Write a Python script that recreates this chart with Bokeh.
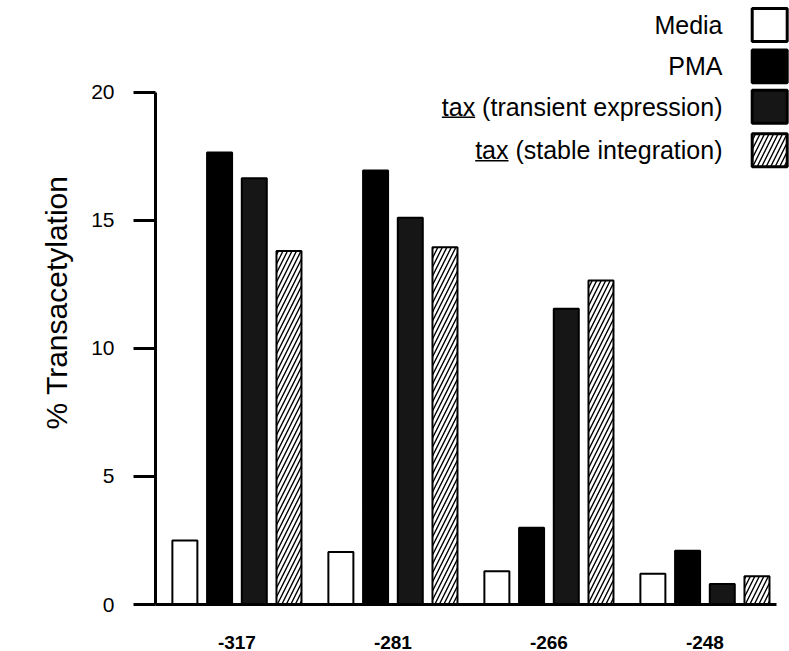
import numpy as np
from bokeh.plotting import figure
from bokeh.models import Range1d, FixedTicker, ColumnDataSource
from bokeh.transform import dodge
from bokeh.embed import file_html
from bokeh.resources import INLINE
from bokeh.core.properties import value

# ---------------- data ----------------
groups = ["-317", "-281", "-266", "-248"]
series = ["Media", "PMA", "tax (transient expression)", "tax (stable integration)"]
media = [2.5, 2.05, 1.3, 1.2]
pma = [17.65, 16.95, 3.0, 2.1]
tax_transient = [16.65, 15.1, 11.55, 0.8]
tax_stable = [13.8, 13.95, 12.65, 1.1]
y_ticks = [0, 5, 10, 15, 20]
y_label = "% Transacetylation"

FONT = "Liberation Sans"
W, H = 789, 651
LEFT = 155         # frame left (px)
BASE = 605         # frame bottom (px)
PX_X = 156.0       # pixels per group unit
PX_Y = 25.65       # pixels per y unit
X0 = -0.522
Y1 = BASE / PX_Y

p = figure(width=W, height=H, output_backend="svg", toolbar_location=None,
           x_range=Range1d(X0, X0 + (W - LEFT) / PX_X), y_range=Range1d(0, Y1),
           min_border_left=LEFT, min_border_right=0, min_border_top=0,
           min_border_bottom=H - BASE, background_fill_color="white",
           border_fill_color="white", outline_line_color=None)
p.grid.visible = False

src = ColumnDataSource(dict(x=list(range(len(groups))), media=media, pma=pma,
                            tt=tax_transient, ts=tax_stable))
pitch = 34.7 / PX_X
bw = 25.0 / PX_X
common = dict(width=bw, source=src, line_color="black", line_width=2)
p.vbar(x=dodge("x", -1.5 * pitch, range=p.x_range), top="media",
       fill_color="white", **common)
p.vbar(x=dodge("x", -0.5 * pitch, range=p.x_range), top="pma",
       fill_color="black", **common)
p.vbar(x=dodge("x", 0.5 * pitch, range=p.x_range), top="tt",
       fill_color="#161616", **common)
p.vbar(x=dodge("x", 1.5 * pitch, range=p.x_range), top="ts",
       fill_color="white", hatch_pattern="/", hatch_color="black",
       hatch_weight=1.4, hatch_scale=9, **common)

# ---------------- axes ----------------
xa = p.xaxis[0]
xa.ticker = FixedTicker(ticks=list(range(len(groups))))
xa.major_label_overrides = {i: g for i, g in enumerate(groups)}
xa.bounds = (X0, X0 + (776 - LEFT) / PX_X)
xa.axis_line_width = 3
xa.axis_line_color = "black"
xa.major_tick_line_color = None
xa.minor_tick_line_color = None
xa.major_label_text_font = FONT
xa.major_label_text_font_style = "bold"
xa.major_label_text_font_size = "19px"
xa.major_label_text_color = "black"
xa.major_label_standoff = 25

ya = p.yaxis[0]
ya.ticker = FixedTicker(ticks=y_ticks)
ya.bounds = (0, 20)
ya.axis_line_width = 3
ya.axis_line_color = "black"
ya.major_tick_line_width = 3
ya.major_tick_line_color = "black"
ya.major_tick_out = 22
ya.major_tick_in = 0
ya.minor_tick_line_color = None
ya.major_label_text_font = FONT
ya.major_label_text_font_size = "21px"
ya.major_label_text_color = "black"
ya.major_label_standoff = 19
ya.axis_label = y_label
ya.axis_label_text_font = FONT
ya.axis_label_text_font_size = "30px"
ya.axis_label_text_font_style = "normal"
ya.axis_label_text_color = "black"
ya.axis_label_standoff = 15

# ---------------- legend (drawn manually, labels left of boxes) ----------------
box_cx = X0 + (769.2 - LEFT) / PX_X
box_w = 35 / PX_X
box_h = 33 / PX_Y
row_px = [24.5, 66, 106.5, 150]           # pixel rows of the legend entries
row_y = [Y1 - r / PX_Y for r in row_px]
text_x = X0 + (722 - LEFT) / PX_X

fills = ["white", "black", "#161616", "white"]
hatches = [" ", " ", " ", "/"]
leg = ColumnDataSource(dict(x=[box_cx] * 4, y=row_y, fill=fills, hatch=hatches,
                            tx=[text_x] * 4, label=series))
p.rect(x="x", y="y", width=box_w, height=box_h, source=leg, fill_color="fill",
       line_color="black", line_width=3, hatch_pattern="hatch",
       hatch_color="black", hatch_weight=1.4, hatch_scale=9)
p.text(x="tx", y="y", text="label", source=leg, text_align="right",
       text_baseline="middle", text_font=value(FONT), text_font_size="25px",
       text_color="black")

# underline under "tax" (Arial/Liberation metrics, em units)
CW = {"t": .278, "a": .556, "x": .5, " ": .278, "(": .333, ")": .333,
      "r": .333, "n": .556, "s": .5, "i": .222, "e": .556, "p": .556,
      "o": .556, "b": .556, "l": .222, "g": .556}
def em_width(s):
    return sum(CW[c] for c in s)
fs = 25.0
ux0, ux1, uy = [], [], []
for lab, yy in zip(series, row_y):
    if lab.startswith("tax"):
        left = text_x - em_width(lab) * fs / PX_X
        ux0.append(left)
        ux1.append(left + em_width("tax") * fs / PX_X)
        uy.append(yy - 10.5 / PX_Y)
p.segment(x0=ux0, y0=uy, x1=ux1, y1=uy, line_color="black", line_width=1.5)

open("out.html", "w").write(file_html(p, INLINE))
